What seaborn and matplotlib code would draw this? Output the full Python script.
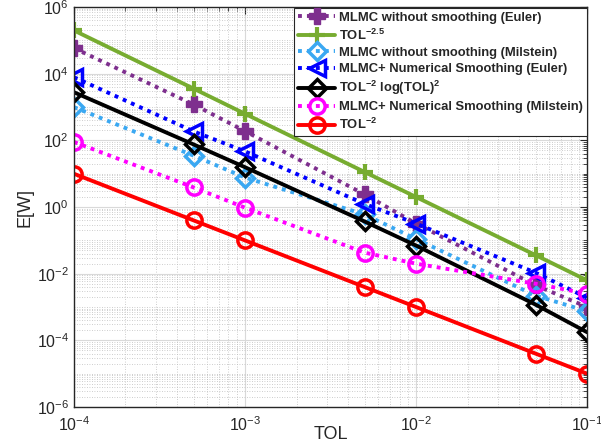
import numpy as np
import pandas as pd
import matplotlib
matplotlib.use("Agg")
import matplotlib.pyplot as plt
import seaborn as sns
from matplotlib.ticker import LogLocator, NullFormatter

tol = [1e-4, 5e-4, 1e-3, 5e-3, 1e-2, 5e-2, 1e-1]

mlmc_euler = [5.9e4, 1.2e3, 190, 2.4, 0.32, 4.5e-3, 1.0e-3]
ref_25 = [2.0e5, 3.6e3, 630, 11.3, 2.0, 0.036, 0.0063]
mlmc_milstein = [1.0e3, 35, 7.7, 0.6, 0.11, 2.2e-3, 7.5e-4]
smooth_euler = [7.9e3, 187, 47, 1.25, 0.32, 0.0107, 1.9e-3]
ref_log = [2.8e3, 76, 15.7, 0.37, 0.07, 1.18e-3, 1.75e-4]
smooth_milstein = [90, 3.9, 0.96, 0.043, 0.02, 5e-3, 2.5e-3]
ref_2 = [10, 0.4, 0.1, 4e-3, 1e-3, 4e-5, 1e-5]

labels = [
    "MLMC without smoothing (Euler)",
    r"TOL$^{\mathbf{-2.5}}$",
    "MLMC without smoothing (Milstein)",
    "MLMC+ Numerical Smoothing (Euler)",
    r"TOL$^{\mathbf{-2}}$ log(TOL)$^{\mathbf{2}}$",
    "MLMC+ Numerical Smoothing (Milstein)",
    r"TOL$^{\mathbf{-2}}$",
]

sns.set_theme(style="white")
plt.rcParams["font.family"] = ["Liberation Sans", "DejaVu Sans"]
plt.rcParams["mathtext.fontset"] = "custom"
plt.rcParams["mathtext.rm"] = "Liberation Sans"
plt.rcParams["mathtext.bf"] = "Liberation Sans:bold"
plt.rcParams["mathtext.it"] = "Liberation Sans:italic"

fig = plt.figure(figsize=(6.01, 4.46), dpi=100)
ax = fig.add_axes([0.123, 0.0874, 0.854, 0.8966])

dot = (0, (1, 1.3))
specs = [
    (mlmc_euler, "#7E2F8E", dot, "P", "#7E2F8E", 11, 1),
    (ref_25, "#77AC30", "-", "+", "none", 12, 3),
    (mlmc_milstein, "#3AA8F2", dot, "D", "none", 9, 2.5),
    (smooth_euler, "#0000FF", dot, "<", "none", 11, 2.5),
    (ref_log, "#000000", "-", "D", "none", 9, 2.5),
    (smooth_milstein, "#FF00FF", dot, "o", "none", 11, 2.5),
    (ref_2, "#FF0000", "-", "o", "none", 11, 2.5),
]

for (vals, col, ls, mk, mfc, ms, mew), lab in zip(specs, labels):
    df = pd.DataFrame({"TOL": tol, "W": vals})
    sns.lineplot(data=df, x="TOL", y="W", ax=ax, color=col, linestyle=ls,
                 linewidth=2.8, marker=mk, markersize=ms, markerfacecolor=mfc,
                 markeredgecolor=col, markeredgewidth=mew,
                 label=lab, estimator=None, sort=False, dash_capstyle="butt")

ax.set_xscale("log")
ax.set_yscale("log")
ax.set_xlim(1e-4, 1e-1)
ax.set_ylim(1e-6, 1e6)
ax.set_xticks([1e-4, 1e-3, 1e-2, 1e-1])
ax.set_yticks([1e-6, 1e-4, 1e-2, 1e0, 1e2, 1e4, 1e6])
ax.xaxis.set_minor_locator(LogLocator(base=10, subs=np.arange(1, 10), numticks=100))
ax.yaxis.set_minor_locator(LogLocator(base=10, subs=np.arange(1, 10), numticks=100))
ax.xaxis.set_minor_formatter(NullFormatter())
ax.yaxis.set_minor_formatter(NullFormatter())

ax.grid(which="major", color="#d9d9d9", linewidth=0.8, linestyle="-")
ax.grid(which="minor", color="#bdbdbd", linewidth=0.6, linestyle=(0, (1, 2)))
ax.set_axisbelow(True)

ax.tick_params(which="both", direction="in", top=True, right=True,
               colors="#262626", labelsize=11.5)
ax.tick_params(which="major", length=5, width=0.8)
ax.tick_params(which="minor", length=3, width=0.6)
ax.tick_params(axis="x", pad=6)
for sp in ax.spines.values():
    sp.set_color("#262626")
    sp.set_linewidth(1.0)

ax.set_xlabel("TOL", fontsize=13, color="#262626", labelpad=-6)
ax.set_ylabel("E[W]", fontsize=13, color="#262626", labelpad=2)

leg = ax.legend(loc="upper right", borderaxespad=0.05,
                prop={"weight": "bold", "size": 9.4}, handlelength=2.8,
                labelspacing=0.3, frameon=True, fancybox=False,
                edgecolor="#262626", framealpha=1, borderpad=0.3,
                handletextpad=0.3)
leg.get_frame().set_linewidth(0.8)

fig.savefig("out.png", dpi=100)
